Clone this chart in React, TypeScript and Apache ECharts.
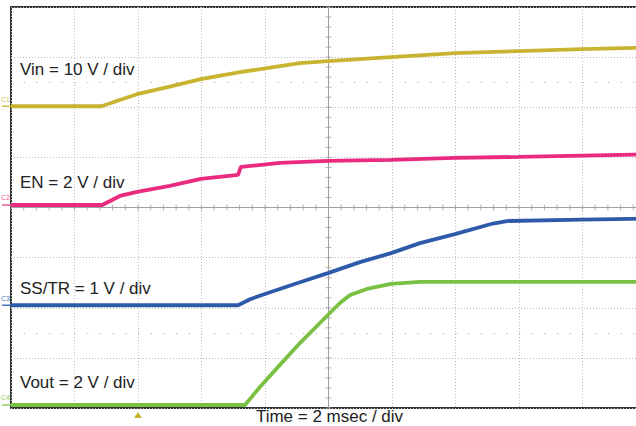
import React, { useEffect, useRef } from "react";
import * as echarts from "echarts";

// Time axis: 2 ms / div, trigger at 0 ms
const timeTicks = [-4, -2, 0, 2, 4, 6, 8, 10, 12, 14, 16];

// Vin (10 V/div)
const vinTime = [-4, -1.15, -0.6, -0.03, 1.0, 1.98, 3.21, 4.16, 5.1, 5.98, 7.97, 9.98, 12.0, 13.98, 16];
const vinVolts = [0.2, 0.2, 1.4, 2.6, 4.1, 5.6, 7.0, 7.9, 8.8, 9.2, 10.0, 10.8, 11.2, 11.6, 11.9];

// EN (2 V/div)
const enTime = [-4, -1.13, -0.88, -0.57, -0.03, 1.0, 1.98, 3.15, 3.24, 4.47, 5.98, 7.97, 9.98, 12.0, 16];
const enVolts = [0.1, 0.1, 0.26, 0.46, 0.62, 0.86, 1.14, 1.3, 1.62, 1.78, 1.86, 1.9, 1.98, 2.02, 2.12];

// SS/TR (1 V/div)
const ssTime = [-4, 3.15, 3.53, 4.16, 5.1, 5.98, 6.99, 7.97, 8.88, 9.98, 11.18, 11.62, 13.98, 16];
const ssVolts = [0.05, 0.05, 0.17, 0.31, 0.51, 0.69, 0.91, 1.09, 1.29, 1.47, 1.68, 1.73, 1.76, 1.78];

// Vout (2 V/div)
const voutTime = [-4, 3.37, 3.84, 4.47, 5.1, 5.98, 6.36, 6.68, 7.21, 7.97, 8.88, 16];
const voutVolts = [0.12, 0.12, 0.84, 1.72, 2.59, 3.71, 4.19, 4.51, 4.75, 4.95, 5.03, 5.03];

const channels = [
  { tag: "C1", label: "Vin = 10 V / div", color: "#c8b430", tagColor: "#d2c04a", scale: 10, offset: 6, ground: 0.2, time: vinTime, volts: vinVolts },
  { tag: "C2", label: "EN = 2 V / div", color: "#ea2a7e", tagColor: "#ee5a9a", scale: 2, offset: 4, ground: 0.1, time: enTime, volts: enVolts },
  { tag: "C3", label: "SS/TR = 1 V / div", color: "#2e5ba9", tagColor: "#4a74bd", scale: 1, offset: 2, ground: 0.05, time: ssTime, volts: ssVolts },
  { tag: "C4", label: "Vout = 2 V / div", color: "#79c143", tagColor: "#8fcc60", scale: 2, offset: 0, ground: 0.12, time: voutTime, volts: voutVolts },
];

// label vertical positions (in divisions from bottom)
const labelDiv = [6.76, 4.495, 2.38, 0.5];

const FONT = '17px "Liberation Sans", Arial, sans-serif';

export default function App() {
  const ref = useRef<HTMLDivElement>(null);
  useEffect(() => {
    if (!ref.current) return;
    document.body.style.overflow = "hidden";
    const chart = echarts.init(ref.current, undefined, { renderer: "svg" });
    const xMin = timeTicks[0];
    const xMax = timeTicks[timeTicks.length - 1];
    const xTicksMinor: number[][] = [];
    for (let t = xMin; t <= xMax + 1e-9; t += 0.4) xTicksMinor.push([+t.toFixed(2), 4]);
    const yTicksMinor: number[][] = [];
    for (let d = 0; d <= 8 + 1e-9; d += 0.2) yTicksMinor.push([6, +d.toFixed(2)]);

    const traceSeries = channels.map((c) => ({
      type: "line",
      name: c.tag,
      showSymbol: false,
      symbol: "none",
      z: 5,
      lineStyle: { color: c.color, width: 3.8 },
      data: c.time.map((t, i) => [t, c.offset + c.volts[i] / c.scale]),
    }));

    chart.setOption({
      animation: false,
      backgroundColor: "#ffffff",
      grid: { left: 11, top: 7, width: 635, height: 401, show: true, borderColor: "#333", borderWidth: 2, backgroundColor: "transparent" },
      xAxis: {
        type: "value", min: xMin, max: xMax, interval: 2,
        axisLine: { show: false }, axisTick: { show: false }, axisLabel: { show: false },
        splitLine: { show: true, lineStyle: { color: "#bdbdbd", type: [1, 2], width: 1 } },
      },
      yAxis: {
        type: "value", min: 0, max: 8, interval: 1,
        axisLine: { show: false }, axisTick: { show: false }, axisLabel: { show: false },
        splitLine: { show: true, lineStyle: { color: "#bdbdbd", type: [1, 2], width: 1 } },
      },
      series: [
        {
          type: "scatter", silent: true, z: 2, symbol: "rect", symbolSize: [1, 6],
          itemStyle: { color: "#a0a0a0" }, data: xTicksMinor,
          markLine: {
            silent: true, symbol: "none", label: { show: false },
            lineStyle: { color: "#a0a0a0", type: "solid", width: 1 },
            data: [{ yAxis: 4 }, { xAxis: 6 }],
          },
        },
        {
          type: "scatter", silent: true, z: 2, symbol: "rect", symbolSize: [6, 1],
          itemStyle: { color: "#a0a0a0" }, data: yTicksMinor,
          markLine: {
            silent: true, symbol: "none", label: { show: false },
            lineStyle: { color: "#b0b0b0", type: [1.2, 11.5], width: 1.2 },
            data: [{ yAxis: 6.5 }, { yAxis: 1.5 }],
          },
        },
        ...traceSeries,
      ],
    });

    const graphics: any[] = [];
    channels.forEach((c, i) => {
      const gy = chart.convertToPixel({ gridIndex: 0 }, [xMin, c.offset + c.ground / c.scale])[1];
      graphics.push({ type: "line", silent: true, shape: { x1: 2, y1: gy, x2: 11, y2: gy }, style: { stroke: c.tagColor, lineWidth: 1.5 } });
      graphics.push({ type: "text", silent: true, x: 1, y: gy - 7, style: { text: c.tag, font: '7px "Liberation Sans", Arial, sans-serif', fill: c.tagColor, verticalAlign: "middle" } });
      const ly = chart.convertToPixel({ gridIndex: 0 }, [xMin, labelDiv[i]])[1];
      graphics.push({ type: "text", silent: true, z: 10, x: 20, y: ly, style: { text: c.label, font: FONT, fill: "#222", verticalAlign: "middle" } });
    });
    const trig = chart.convertToPixel({ gridIndex: 0 }, [0, 0]);
    graphics.push({ type: "polygon", silent: true, shape: { points: [[trig[0] - 4, trig[1] + 10], [trig[0] + 4, trig[1] + 10], [trig[0], trig[1] + 4]] }, style: { fill: "#c8b430" } });
    const mid = chart.convertToPixel({ gridIndex: 0 }, [6, 0]);
    graphics.push({ type: "text", silent: true, x: mid[0] + 1, y: mid[1] + 8.5, style: { text: "Time = 2 msec / div", font: FONT, fill: "#222", align: "center", verticalAlign: "middle" } });
    chart.setOption({ graphic: graphics });

    return () => chart.dispose();
  }, []);
  return <div ref={ref} style={{ position: "fixed", left: 0, top: 0, width: 660, height: 426, background: "#fff" }} />;
}
